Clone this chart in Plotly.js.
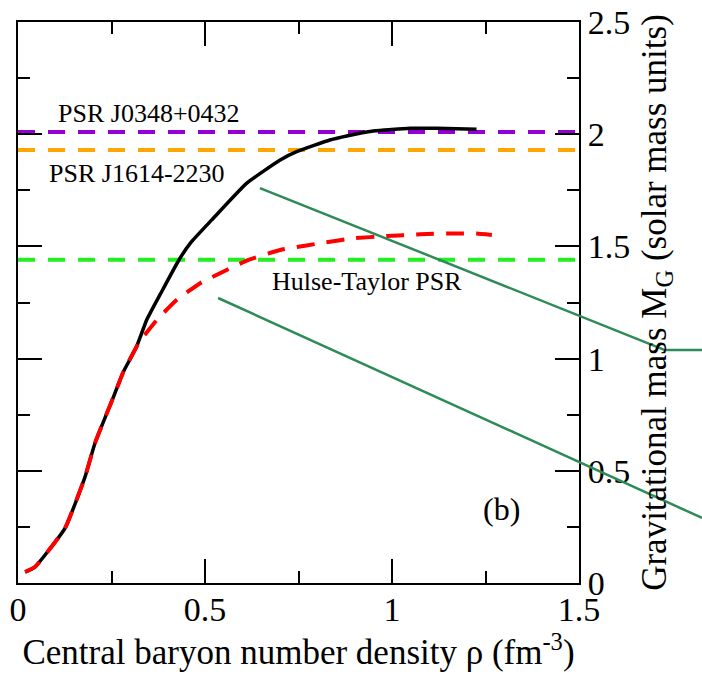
<!DOCTYPE html>
<html>
<head>
<meta charset="utf-8">
<script src="https://cdn.plot.ly/plotly-3.0.1.min.js"></script>
<style>html,body{margin:0;padding:0;background:#fff;}#chart{width:702px;height:678px;}</style>
</head>
<body>
<div id="chart"></div>
<script>
// Central baryon number density (fm^-3) and gravitational mass (solar masses)
var blackDensity = [0.019, 0.045, 0.126, 0.179, 0.206, 0.254, 0.273, 0.282, 0.317, 0.344, 0.384, 0.433, 0.464, 0.518, 0.611, 0.701, 0.745, 0.834, 0.879, 0.950, 1.048, 1.120, 1.226];
var blackMass    = [0.049, 0.071, 0.245, 0.472, 0.624, 0.824, 0.905, 0.942, 1.053, 1.172, 1.298, 1.447, 1.521, 1.618, 1.781, 1.885, 1.922, 1.974, 1.992, 2.014, 2.026, 2.026, 2.022];
var redDensity = [0.019, 0.045, 0.126, 0.179, 0.206, 0.254, 0.273, 0.282, 0.322, 0.371, 0.424, 0.487, 0.558, 0.615, 0.701, 0.834, 0.897, 0.986, 1.075, 1.164, 1.226, 1.267];
var redMass    = [0.049, 0.071, 0.245, 0.472, 0.624, 0.824, 0.905, 0.942, 1.068, 1.172, 1.261, 1.336, 1.395, 1.439, 1.484, 1.521, 1.536, 1.546, 1.554, 1.558, 1.557, 1.551];

// Observed pulsar masses (horizontal reference lines)
var pulsarNames  = ["PSR J0348+0432", "PSR J1614-2230", "Hulse-Taylor PSR"];
var pulsarMasses = [2.01, 1.93, 1.44];
var pulsarColors = ["#9400D3", "#FFA500", "#22EE22"];

// Axis ranges and ticks
var xRange = [0, 1.5];
var yRange = [0, 2.5];
var xTicks = [0, 0.5, 1, 1.5];
var xTickText = ["0", "0.5", "1", "1.5"];
var yTicks = [0, 0.5, 1, 1.5, 2, 2.5];
var yTickText = ["0", "0.5", "1", "1.5", "2", "2.5"];

// Green pointer lines (data units; they run past the plot's right edge)
var pointerA_x = [0.647, 1.730, 1.829];
var pointerA_y = [1.760, 1.038, 1.038];
var pointerB_x = [0.535, 1.829];
var pointerB_y = [1.270, 0.290];

var serif = "Liberation Serif";

var traces = [];
for (var i = 0; i < pulsarMasses.length; i++) {
  traces.push({
    x: [xRange[0], xRange[1]], y: [pulsarMasses[i], pulsarMasses[i]],
    mode: "lines", type: "scatter", hoverinfo: "skip", showlegend: false,
    line: {color: pulsarColors[i], width: 4, dash: "17px,13px"}
  });
}
traces.push({
  x: blackDensity, y: blackMass, mode: "lines", type: "scatter", showlegend: false,
  line: {color: "#000000", width: 3.5, shape: "spline", smoothing: 0.4}
});
traces.push({
  x: redDensity, y: redMass, mode: "lines", type: "scatter", showlegend: false,
  line: {color: "#FF0000", width: 4, dash: "18px,12px", shape: "spline", smoothing: 0.4}
});

function toPaperX(v) { return (v - xRange[0]) / (xRange[1] - xRange[0]); }
var shapes = [];
function addPointer(px, py) {
  for (var k = 0; k < px.length - 1; k++) {
    shapes.push({
      type: "line", xref: "paper", yref: "y",
      x0: toPaperX(px[k]), y0: py[k], x1: toPaperX(px[k + 1]), y1: py[k + 1],
      line: {color: "#2E8B57", width: 2.5}
    });
  }
}
addPointer(pointerA_x, pointerA_y);
addPointer(pointerB_x, pointerB_y);

var axisCommon = {
  showgrid: false, zeroline: false, showline: true, linecolor: "#000", linewidth: 2,
  mirror: "ticks", ticks: "inside", ticklen: 24, tickwidth: 2, tickcolor: "#000",
  tickfont: {family: serif, size: 34, color: "#000"},
  minor: {ticks: "inside", ticklen: 12, tickwidth: 2, tickcolor: "#000", dtick: 0.25, showgrid: false}
};

var layout = {
  width: 702, height: 678,
  margin: {l: 18, r: 123, t: 22, b: 95},
  paper_bgcolor: "#fff", plot_bgcolor: "#fff",
  showlegend: false,
  font: {family: serif, color: "#000"},
  xaxis: Object.assign({}, axisCommon, {
    range: xRange, tickmode: "array", tickvals: xTicks, ticktext: xTickText,
    ticklabelstandoff: -5,
    minor: Object.assign({}, axisCommon.minor, {tick0: 0}),
    title: {text: "Central baryon number density ρ (fm<sup>-3</sup>)", font: {family: serif, size: 35, color: "#000"}, standoff: 12}
  }),
  yaxis: Object.assign({}, axisCommon, {
    range: yRange, side: "right", tickmode: "array", tickvals: yTicks, ticktext: yTickText,
    minor: Object.assign({}, axisCommon.minor, {tick0: 0}),
    title: {text: "Gravitational mass M<sub>G</sub> (solar mass units)", font: {family: serif, size: 35, color: "#000"}, standoff: 12}
  }),
  shapes: shapes,
  annotations: [
    {x: 0.350, y: 2.094, xref: "x", yref: "y", text: pulsarNames[0], showarrow: false, font: {family: serif, size: 26, color: "#000"}},
    {x: 0.3195, y: 1.825, xref: "x", yref: "y", text: pulsarNames[1], showarrow: false, font: {family: serif, size: 26, color: "#000"}},
    {x: 0.933, y: 1.344, xref: "x", yref: "y", text: pulsarNames[2], showarrow: false, font: {family: serif, size: 26, color: "#000"}},
    {x: 1.293, y: 0.33, xref: "x", yref: "y", text: "(b)", showarrow: false, font: {family: serif, size: 32, color: "#000"}}
  ]
};

Plotly.newPlot("chart", traces, layout, {staticPlot: true, displayModeBar: false});
</script>
</body>
</html>
